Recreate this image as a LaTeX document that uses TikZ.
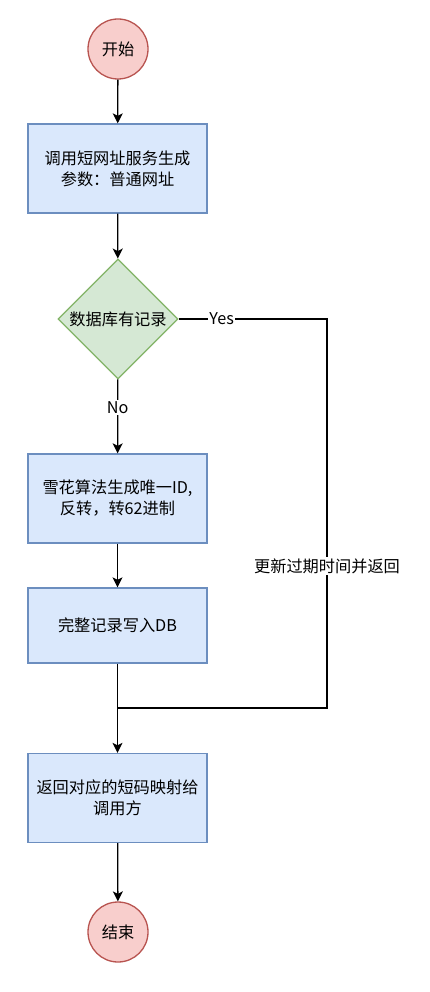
\documentclass[tikz,border=0pt]{standalone}
\usepackage{fontspec}
\setmainfont{Noto Sans CJK SC}
\usetikzlibrary{arrows.meta,shapes.geometric}
\definecolor{bfill}{HTML}{DAE8FC}
\definecolor{bdraw}{HTML}{6C8EBF}
\definecolor{gfill}{HTML}{D5E8D4}
\definecolor{gdraw}{HTML}{82B366}
\definecolor{rfill}{HTML}{F8CECC}
\definecolor{rdraw}{HTML}{B85450}
\begin{document}
\begin{tikzpicture}[x=1pt,y=-1pt,
  every node/.style={font=\fontsize{16.2}{21}\selectfont},
  procbox/.style={draw=bdraw,fill=bfill,line width=1.3pt,minimum width=179pt,minimum height=89pt,align=center,inner sep=0pt},
  termnode/.style={circle,draw=rdraw,fill=rfill,line width=1.3pt,minimum size=60pt,inner sep=0pt},
  decnode/.style={diamond,draw=gdraw,fill=gfill,line width=1.3pt,minimum width=120pt,minimum height=120pt,inner sep=0pt,aspect=1},
  conn/.style={line width=1.3pt,black},
  arr/.style={conn,-{Stealth[length=10pt,width=10pt,inset=2.5pt]}},
  lbl/.style={fill=white,inner sep=1.5pt}]
\useasboundingbox (0,0) rectangle (430,992);
\node[termnode] (start) at (118,49) {开始};
\node[procbox] (call) at (117.5,168.5) {调用短网址服务生成\\参数：普通网址};
\node[decnode] (dec) at (118,319) {数据库有记录};
\node[procbox] (snow) at (117.5,498.5) {雪花算法生成唯一ID,\\反转，转62进制};
\node[procbox,minimum height=75pt] (write) at (117.5,625.5) {完整记录写入DB};
\node[procbox] (ret) at (117.5,798) {返回对应的短码映射给\\调用方};
\node[termnode] (end) at (118,932) {结束};
\coordinate (c1) at (327,319);
\coordinate (c2) at (327,708);
\coordinate (j) at (118,708);
\draw[arr] (start) -- (call);
\draw[arr] (call) -- (dec);
\draw[arr] (dec) -- node[lbl,pos=0.38]{No} (snow);
\draw[arr] (snow) -- (write);
\draw[arr] (write) -- (ret);
\draw[arr] (ret) -- (end);
\draw[conn] (dec.east) -- node[lbl,pos=0.29]{Yes} (c1) -- node[lbl,pos=0.635]{更新过期时间并返回} (c2) -- (j);
\end{tikzpicture}
\end{document}
